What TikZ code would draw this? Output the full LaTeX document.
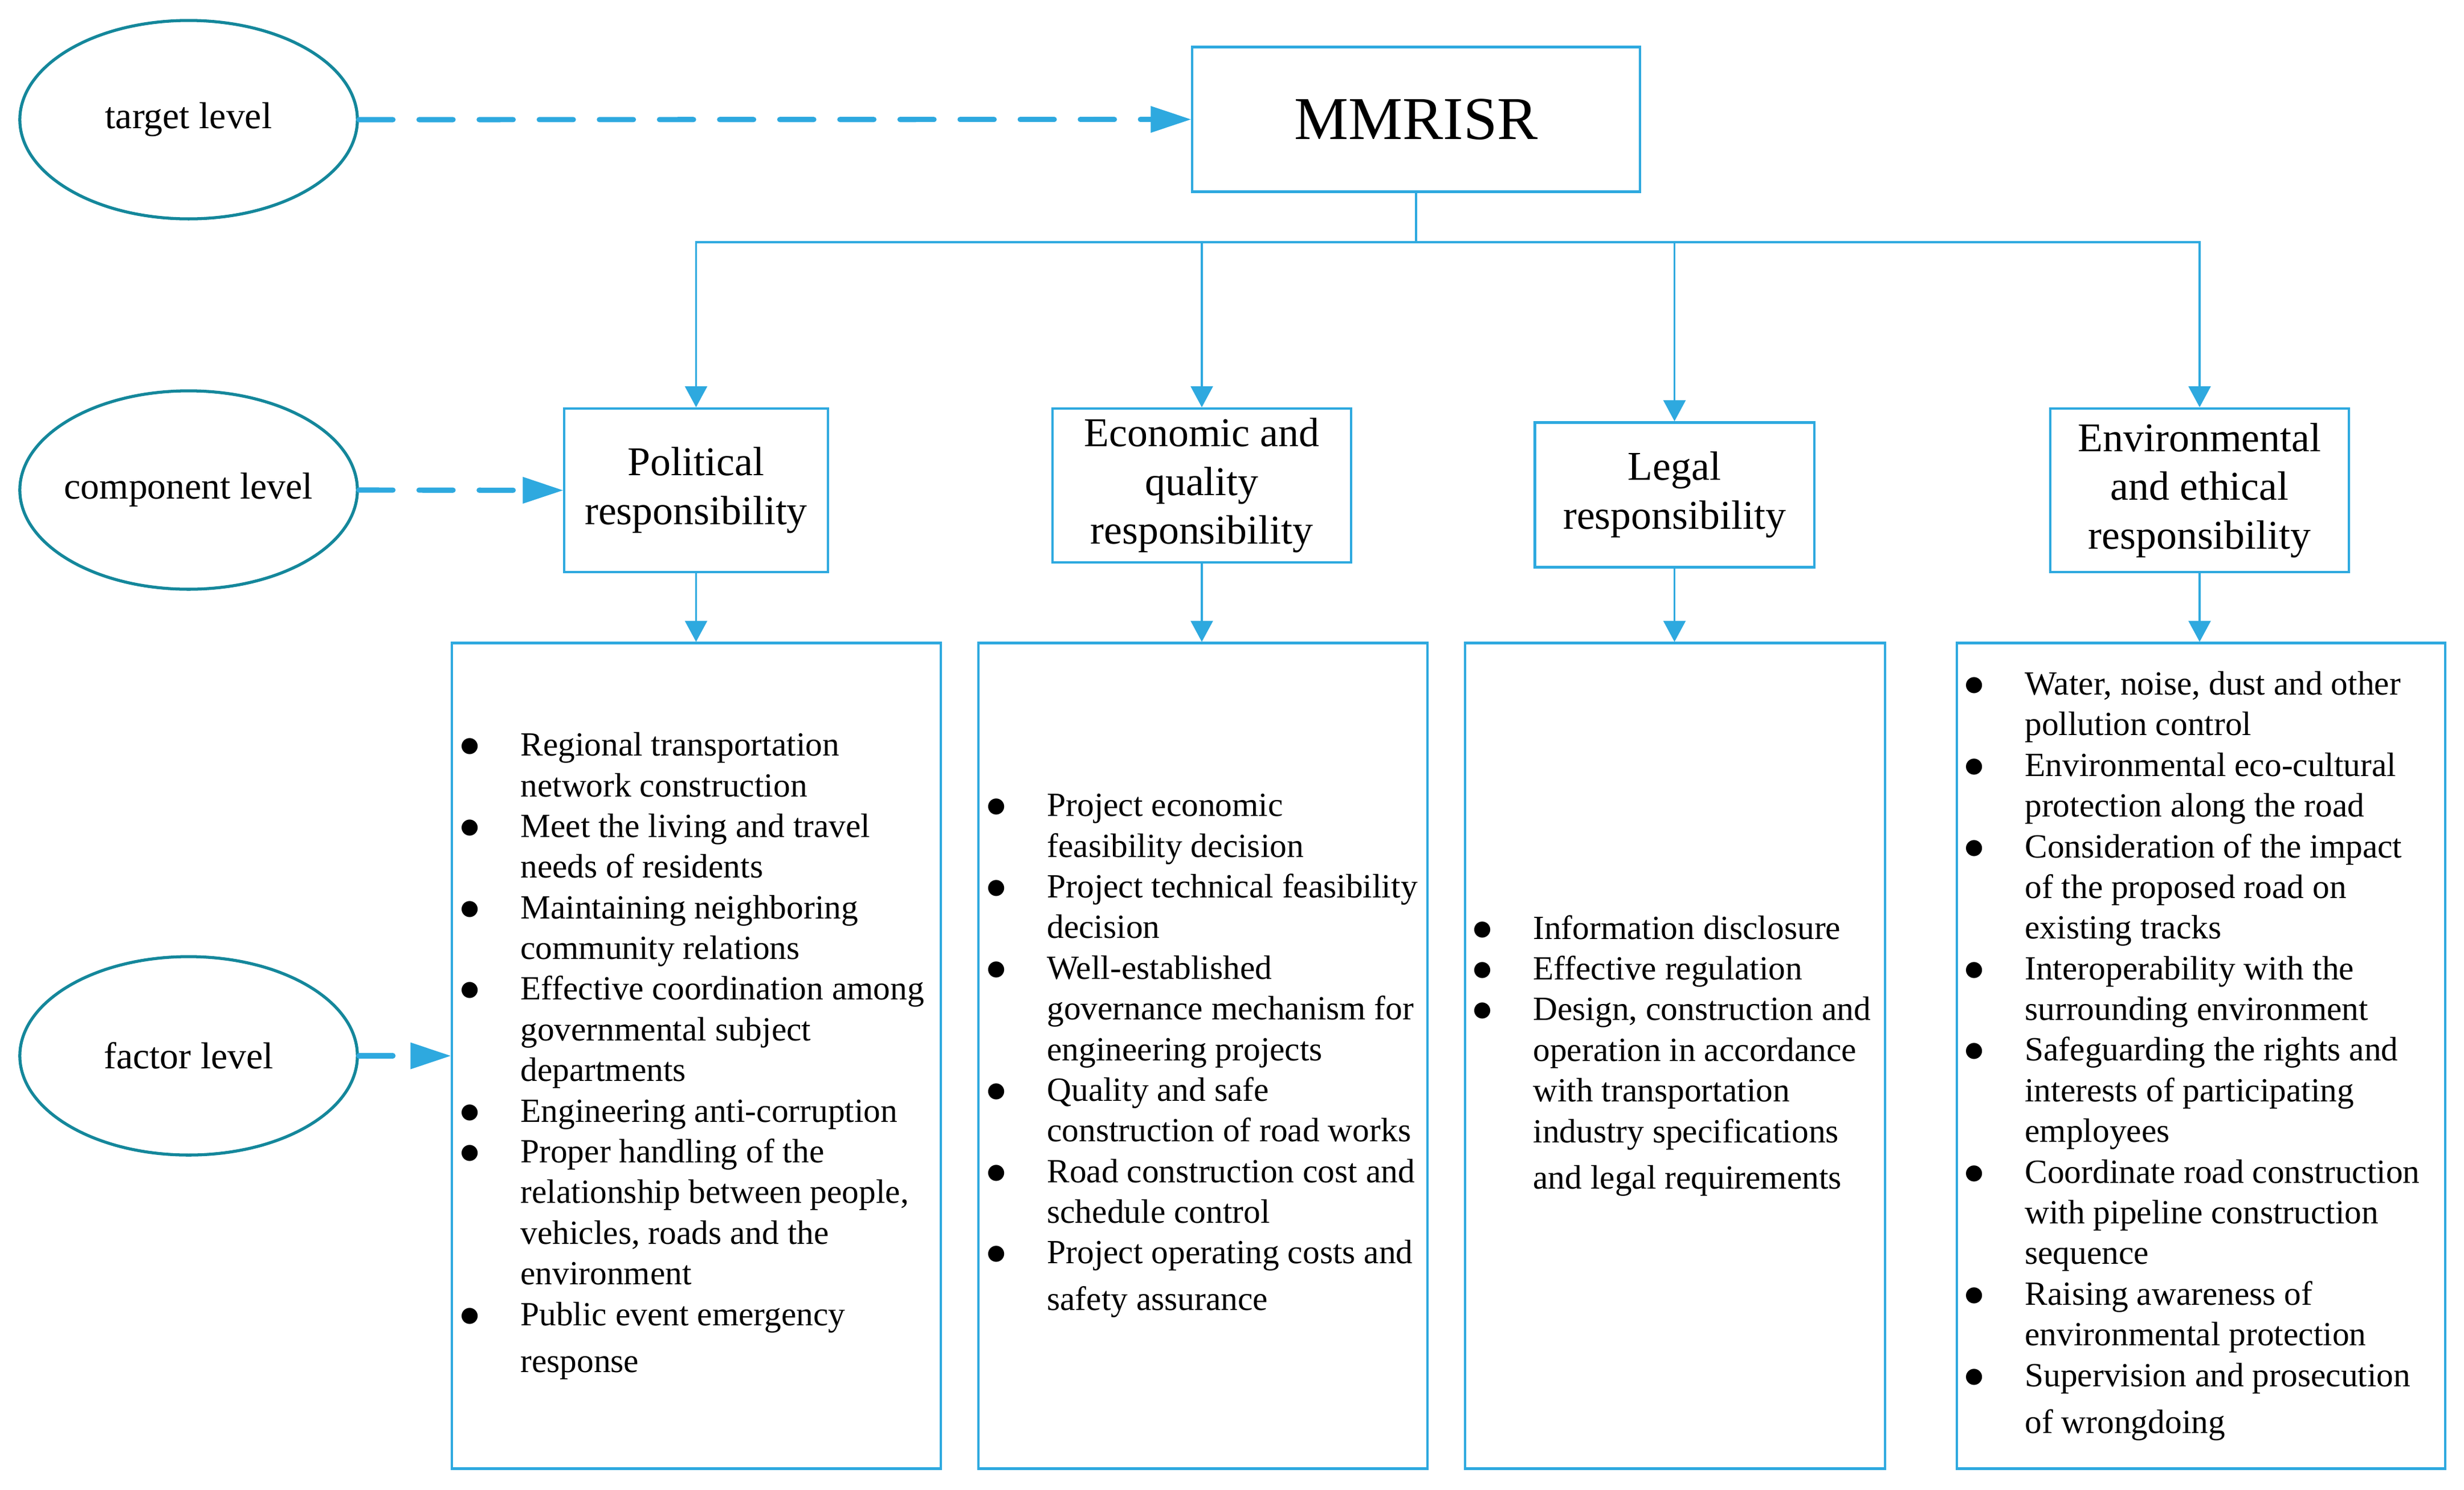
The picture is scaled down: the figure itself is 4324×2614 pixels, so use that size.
\documentclass[tikz,border=0pt]{standalone}
\usepackage{fontspec}
\setmainfont{Liberation Serif}
\newfontfamily\symfont{DejaVu Sans}
\usetikzlibrary{arrows.meta,shapes.geometric,calc}
\definecolor{lblue}{RGB}{46,169,223}
\definecolor{tealc}{RGB}{20,135,155}
\newcommand{\blt}{\makebox[1.05cm][l]{\raisebox{2pt}{\symfont\fontsize{10.5pt}{12pt}\selectfont ●}}}
\newcommand{\lind}{\hspace*{1.05cm}}
\begin{document}
\begin{tikzpicture}[x=0.01cm,y=-0.01cm,
 lvl/.style={ellipse,draw=tealc,line width=1.5pt,minimum width=5.92cm,minimum height=3.48cm,inner sep=0pt,font=\fontsize{18.7pt}{22pt}\selectfont},
 cbox/.style={draw=lblue,line width=1.2pt,inner sep=0pt,align=center,font=\fontsize{20.4pt}{24.3pt}\selectfont},
 fbox/.style={draw=lblue,line width=1.2pt,inner sep=0pt,minimum height=14.48cm},
 ftext/.style={anchor=west,inner sep=0pt,align=left,font=\fontsize{16.9pt}{20.3pt}\selectfont},
 tree/.style={draw=lblue,line width=1.1pt},
 treearr/.style={tree,-{Triangle[length=10.5pt,width=11pt]}},
 dasharr/.style={draw=lblue,line width=2.6pt,line cap=round,dash pattern=on 17pt off 13pt,-{Triangle[length=20pt,width=13.4pt,line width=0pt]}}
]
\useasboundingbox (0,0) rectangle (4324,2614);

% level ellipses
\node[lvl] (tl) at (331,210) {\makebox[0pt]{target level}};
\node[lvl] (cl) at (331,860) {\makebox[0pt]{component level}};
\node[lvl] (fl) at (331,1853) {\makebox[0pt]{factor level}};

% target
\node[cbox,minimum width=7.86cm,minimum height=2.54cm,font=\fontsize{30.4pt}{36pt}\selectfont] (mm) at (2485,209.5) {MMRISR};

% components
\node[cbox,minimum width=4.63cm,minimum height=2.87cm] (pol) at (1221.5,860.5) {Political\\responsibility};
\node[cbox,minimum width=5.24cm,minimum height=2.70cm] (eco) at (2109,852) {Economic and\\quality\\responsibility};
\node[cbox,minimum width=4.90cm,minimum height=2.54cm] (leg) at (2938.5,868.5) {Legal\\responsibility};
\node[cbox,minimum width=5.24cm,minimum height=2.87cm] (env) at (3860,860.5) {Environmental\\and ethical\\responsibility};

% factor boxes
\node[fbox,minimum width=8.58cm] (f1) at (1222,1853) {};
\node[fbox,minimum width=7.88cm] (f2) at (2111,1853) {};
\node[fbox,minimum width=7.37cm] (f3) at (2939.5,1853) {};
\node[fbox,minimum width=8.57cm] (f4) at (3862.5,1853) {};

\node[ftext] (t1) at ([xshift=0.17cm]f1.west) {%
\blt Regional transportation\\
\lind network construction\\
\blt Meet the living and travel\\
\lind needs of residents\\
\blt Maintaining neighboring\\
\lind community relations\\
\blt Effective coordination among\\
\lind governmental subject\\
\lind departments\\
\blt Engineering anti-corruption\\
\blt Proper handling of the\\
\lind relationship between people,\\
\lind vehicles, roads and the\\
\lind environment\\
\blt Public event emergency\\[3pt]
\lind response};

\node[ftext] (t2) at ([xshift=0.17cm]f2.west) {%
\blt Project economic\\
\lind feasibility decision\\
\blt Project technical feasibility\\
\lind decision\\
\blt Well-established\\
\lind governance mechanism for\\
\lind engineering projects\\
\blt Quality and safe\\
\lind construction of road works\\
\blt Road construction cost and\\
\lind schedule control\\
\blt Project operating costs and\\[3pt]
\lind safety assurance};

\node[ftext] (t3) at ([xshift=0.16cm]f3.west) {%
\blt Information disclosure\\
\blt Effective regulation\\
\blt Design, construction and\\
\lind operation in accordance\\
\lind with transportation\\
\lind industry specifications\\[3pt]
\lind and legal requirements};

\node[ftext] (t4) at ([xshift=0.16cm]f4.west) {%
\blt Water, noise, dust and other\\
\lind pollution control\\
\blt Environmental eco-cultural\\
\lind protection along the road\\
\blt Consideration of the impact\\
\lind of the proposed road on\\
\lind existing tracks\\
\blt Interoperability with the\\
\lind surrounding environment\\
\blt Safeguarding the rights and\\
\lind interests of participating\\
\lind employees\\
\blt Coordinate road construction\\
\lind with pipeline construction\\
\lind sequence\\
\blt Raising awareness of\\
\lind environmental protection\\
\blt Supervision and prosecution\\[3pt]
\lind of wrongdoing};

% dashed level arrows
\draw[dasharr] (tl.east) -- (mm.west);
\draw[dasharr] (cl.east) -- (pol.west);
\draw[dasharr] (fl.east) -- (f1.west);

% tree connectors
\path (mm.south) ++(0,86) coordinate (bar);
\draw[tree] (mm.south) -- (bar);
\draw[treearr] (bar) -| (pol.north);
\draw[treearr] (bar) -| (eco.north);
\draw[treearr] (bar) -| (leg.north);
\draw[treearr] (bar) -| (env.north);

\draw[treearr] (pol.south) -- (pol.south |- f1.north);
\draw[treearr] (eco.south) -- (eco.south |- f2.north);
\draw[treearr] (leg.south) -- (leg.south |- f3.north);
\draw[treearr] (env.south) -- (env.south |- f4.north);
\end{tikzpicture}
\end{document}
